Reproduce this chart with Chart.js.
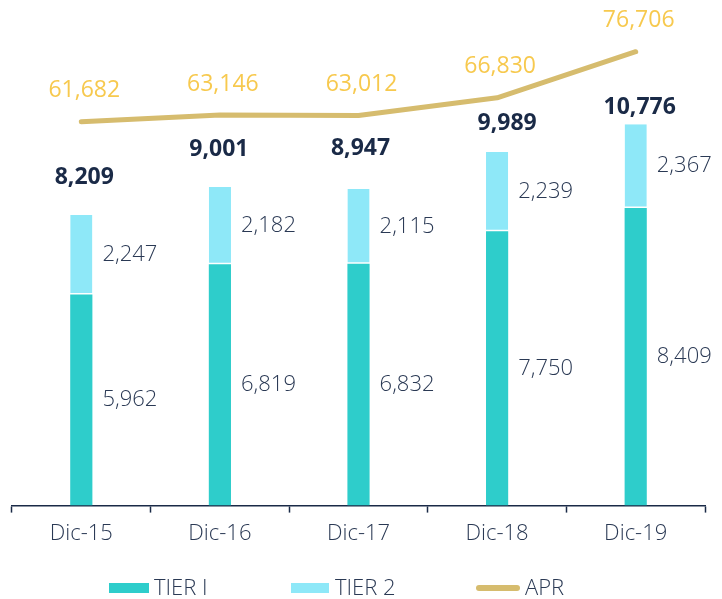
<!DOCTYPE html>
<html>
<head>
<meta charset="utf-8">
<script src="https://cdn.jsdelivr.net/npm/chart.js@4/dist/chart.umd.min.js"></script>
<style>
  html, body { margin: 0; padding: 0; background: #fff; }
  #wrap { width: 722px; height: 599px; position: relative; }
</style>
</head>
<body>
<div id="wrap"><canvas id="capitalChart"></canvas></div>
<script>
// Capital base by year (millions)
const categories = ['Dic-15', 'Dic-16', 'Dic-17', 'Dic-18', 'Dic-19'];
const tier1 = [5962, 6819, 6832, 7750, 8409];
const tier2 = [2247, 2182, 2115, 2239, 2367];
const apr = [61682, 63146, 63012, 66830, 76706];

const COLORS = {
    tier1: '#2ECDCB',
    tier2: '#8EE8F8',
    apr: '#D6BC6E',
    aprText: '#F7C94E',
    navy: '#1A2A47',
    text: '#2A3954'
};
const FONT = '"Open Sans", "Noto Sans", sans-serif';

// small nudges for the total labels, hand placed above each bar
const totalNudgeX = [3, -1, 2, 10, 4];
const totalLift = [38, 38, 40, 29, 17];

const fmt = v => v.toLocaleString('en-US');

/**
 * Value labels: totals above bars, segment values to the right, APR above the line
 */
const valueLabels = {
    id: 'valueLabels',
    afterDatasetsDraw(chart) {
        const ctx = chart.ctx;
        const m1 = chart.getDatasetMeta(0);
        const m2 = chart.getDatasetMeta(1);
        const m3 = chart.getDatasetMeta(2);
        ctx.save();
        ctx.textBaseline = 'middle';

        // segment values
        ctx.font = '300 22px ' + FONT;
        ctx.fillStyle = COLORS.text;
        ctx.textAlign = 'left';
        [m1, m2].forEach((meta, i) => {
            const values = i === 0 ? tier1 : tier2;
            meta.data.forEach((bar, j) => {
                const p = bar.getProps(['x', 'y', 'base', 'width'], true);
                ctx.fillText(fmt(values[j]), p.x + p.width / 2 + 10, (p.y + p.base) / 2);
            });
        });

        // totals
        ctx.font = '700 23px ' + FONT;
        ctx.fillStyle = COLORS.navy;
        ctx.textAlign = 'center';
        m2.data.forEach((bar, j) => {
            const p = bar.getProps(['x', 'y'], true);
            ctx.fillText(fmt(tier1[j] + tier2[j]), p.x + totalNudgeX[j], p.y - totalLift[j]);
        });

        // APR labels
        ctx.font = '400 23px ' + FONT;
        ctx.fillStyle = COLORS.aprText;
        m3.data.forEach((pt, j) => {
            const p = pt.getProps(['x', 'y'], true);
            ctx.fillText(fmt(apr[j]), p.x + 3, p.y - 31);
        });
        ctx.restore();
    }
};

/**
 * Legend drawn along the bottom edge
 */
const bottomLegend = {
    id: 'bottomLegend',
    afterDraw(chart) {
        const ctx = chart.ctx;
        const y = 588;
        ctx.save();
        ctx.fillStyle = COLORS.tier1;
        ctx.fillRect(109, y - 5, 40, 10);
        ctx.fillStyle = COLORS.tier2;
        ctx.fillRect(291, y - 5, 38, 10);
        ctx.strokeStyle = COLORS.apr;
        ctx.lineWidth = 6;
        ctx.lineCap = 'round';
        ctx.beginPath();
        ctx.moveTo(479, y);
        ctx.lineTo(517, y);
        ctx.stroke();

        ctx.font = '300 22px ' + FONT;
        ctx.fillStyle = COLORS.text;
        ctx.textAlign = 'left';
        ctx.textBaseline = 'middle';
        ctx.fillText(chart.data.datasets[0].label, 154, y + 1);
        ctx.fillText(chart.data.datasets[1].label, 335, y + 1);
        ctx.fillText(chart.data.datasets[2].label, 525, y + 1);
        ctx.restore();
    }
};

const ctx = document.getElementById('capitalChart');
new Chart(ctx, {
    data: {
        labels: categories,
        datasets: [
            {
                type: 'bar',
                label: 'TIER I',
                data: tier1,
                backgroundColor: COLORS.tier1,
                yAxisID: 'y',
                stack: 'capital',
                barPercentage: 0.16,
                categoryPercentage: 1,
                order: 2
            },
            {
                type: 'bar',
                label: 'TIER 2',
                data: tier2,
                backgroundColor: COLORS.tier2,
                borderColor: '#ffffff',
                borderWidth: { top: 0, left: 0, right: 0, bottom: 1.5 },
                borderSkipped: false,
                yAxisID: 'y',
                stack: 'capital',
                barPercentage: 0.16,
                categoryPercentage: 1,
                order: 2
            },
            {
                type: 'line',
                label: 'APR',
                data: apr,
                borderColor: COLORS.apr,
                borderWidth: 5,
                borderCapStyle: 'round',
                borderJoinStyle: 'round',
                pointRadius: 0,
                tension: 0,
                yAxisID: 'y2',
                order: 1
            }
        ]
    },
    options: {
        responsive: true,
        maintainAspectRatio: false,
        animation: false,
        layout: {
            padding: { left: 12, right: 17, top: 10, bottom: 44 }
        },
        plugins: {
            legend: { display: false },
            tooltip: { enabled: false }
        },
        scales: {
            x: {
                stacked: true,
                offset: true,
                border: { display: true, color: COLORS.navy, width: 1.5 },
                grid: {
                    display: true,
                    drawOnChartArea: false,
                    drawTicks: true,
                    tickLength: 7,
                    tickColor: COLORS.navy,
                    tickWidth: 1.5,
                    offset: true
                },
                ticks: {
                    color: COLORS.text,
                    font: { family: FONT, size: 22, weight: '300' },
                    padding: 8
                }
            },
            y: {
                display: false,
                stacked: true,
                min: 0,
                max: 14000
            },
            y2: {
                display: false,
                min: -20600,
                max: 85650
            }
        }
    },
    plugins: [valueLabels, bottomLegend]
});
</script>
</body>
</html>
